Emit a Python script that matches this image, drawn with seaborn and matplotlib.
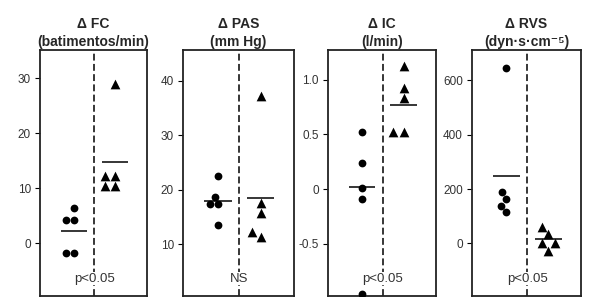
import numpy as np
import pandas as pd
import matplotlib
matplotlib.use("Agg")
import matplotlib.pyplot as plt
import matplotlib.transforms as mtransforms
import seaborn as sns

sns.set_style("ticks")
plt.rcParams["font.family"] = ["Liberation Sans", "DejaVu Sans"]

# values
titles = ["Δ FC\n(batimentos/min)", "Δ PAS\n(mm Hg)", "Δ IC\n(l/min)", "Δ RVS\n(dyn·s·cm⁻⁵)"]
fc_ctrl = [6.4, 4.3, 4.3, -1.7, -1.7]
fc_trt = [29.0, 12.2, 12.2, 10.4, 10.4]
fc_means = [2.2, 14.7]
pas_ctrl = [22.5, 18.6, 17.3, 17.3, 13.5]
pas_trt = [37.1, 17.6, 15.7, 12.3, 11.3]
pas_means = [17.9, 18.5]
ic_ctrl = [0.52, 0.24, 0.01, -0.09, -0.96]
ic_trt = [1.12, 0.92, 0.83, 0.52, 0.52]
ic_means = [0.02, 0.77]
rvs_ctrl = [645, 190, 165, 137, 116]
rvs_trt = [61, 33, 1, 1, -27]
rvs_means = [247, 16]
p_labels = ["p<0.05", "NS", "p<0.05", "p<0.05"]
yticks = [[0, 10, 20, 30], [10, 20, 30, 40], [-0.5, 0, 0.5, 1.0], [0, 200, 400, 600]]
ytick_labels = [["0", "10", "20", "30"], ["10", "20", "30", "40"],
                ["-0.5", "0", "0.5", "1.0"], ["0", "200", "400", "600"]]
ylims = [(-9.6, 35.1), (0.5, 45.6), (-0.976, 1.27), (-194, 712)]

groups = ["A", "B"]
panels = [(fc_ctrl, fc_trt, fc_means), (pas_ctrl, pas_trt, pas_means),
          (ic_ctrl, ic_trt, ic_means), (rvs_ctrl, rvs_trt, rvs_means)]

fig = plt.figure(figsize=(6.0, 3.07), dpi=100)
lefts = [40, 183, 328, 472]
widths = [107, 111, 108, 109]

for i, (ctrl, trt, means) in enumerate(panels):
    ax = fig.add_axes([lefts[i] / 600, 11 / 307, widths[i] / 600, 246 / 307])
    df = pd.DataFrame({"group": ["A"] * len(ctrl) + ["B"] * len(trt),
                       "value": ctrl + trt})
    sns.swarmplot(data=df[df["group"] == "A"], x="group", y="value", order=groups,
                  marker="o", size=5.6, color="black", linewidth=0, ax=ax)
    sns.swarmplot(data=df[df["group"] == "B"], x="group", y="value", order=groups,
                  marker="^", size=7, color="black", linewidth=0, ax=ax)
    for j, m in enumerate(means):
        ax.hlines(m, j - 0.32, j + 0.32, color="black", lw=1.1, zorder=4)
    ax.axvline(0.5, color="black", lw=1.1, ls=(0, (4.5, 2.2)), zorder=1)

    ax.set_xlim(-0.82, 1.78)
    ax.set_ylim(*ylims[i])
    ax.set_xticks([])
    ax.set_yticks(yticks[i])
    ax.set_yticklabels(ytick_labels[i])
    ax.tick_params(axis="y", length=3.5, width=0.8, labelsize=8.5, colors="#333333", pad=3)
    ax.tick_params(axis="y", color="black")
    ax.set_xlabel("")
    ax.set_ylabel("")
    for s in ax.spines.values():
        s.set_visible(True)
        s.set_linewidth(1.3)
        s.set_color("#222222")
    ax.set_title(titles[i], fontsize=10, fontweight="bold", linespacing=1.35,
                 pad=3)
    trans = mtransforms.blended_transform_factory(ax.transData, ax.transAxes)
    ax.text(0.5, 0.07, p_labels[i], transform=trans, ha="center", va="center",
            fontsize=9.5, color="#333333", zorder=5,
            bbox=dict(facecolor="white", edgecolor="none", pad=0.3))

fig.savefig("out.png", dpi=100)
